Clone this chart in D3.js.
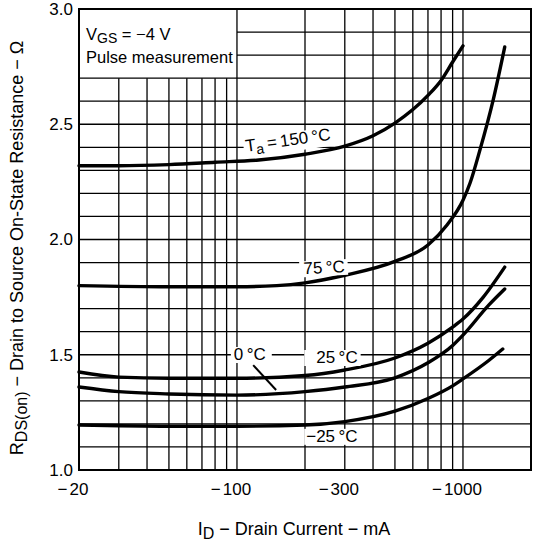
<!DOCTYPE html>
<html>
<head>
<meta charset="utf-8">
<script src="https://cdn.jsdelivr.net/npm/d3@7"></script>
<style>
body { margin: 0; background: #fff; }
svg { display: block; font-family: "Liberation Sans", Arial, sans-serif; }
</style>
</head>
<body>
<svg id="chart" width="533" height="548"></svg>

<script>
// drain current magnitude (mA) and R_DS(on) (ohm)
const id150 = [20, 30, 50, 80, 125, 200, 300, 400, 500, 700, 800, 900, 1000];
const r150  = [2.32, 2.32, 2.325, 2.335, 2.345, 2.37, 2.405, 2.45, 2.505, 2.625, 2.69, 2.77, 2.84];

const id75 = [20, 50, 100, 150, 200, 300, 500, 700, 850, 1000, 1075, 1190, 1360, 1530];
const r75  = [1.80, 1.795, 1.795, 1.80, 1.812, 1.845, 1.905, 1.976, 2.063, 2.17, 2.245, 2.39, 2.605, 2.835];

const id25 = [20, 30, 50, 100, 200, 300, 500, 700, 900, 1000, 1230, 1530];
const r25  = [1.425, 1.403, 1.398, 1.398, 1.41, 1.434, 1.486, 1.55, 1.62, 1.655, 1.75, 1.88];

const id0 = [20, 30, 50, 100, 200, 300, 500, 700, 900, 1000, 1300, 1530];
const r0  = [1.36, 1.34, 1.33, 1.325, 1.34, 1.36, 1.40, 1.465, 1.54, 1.585, 1.715, 1.785];

const idM25 = [20, 50, 100, 200, 300, 500, 700, 900, 1000, 1300, 1500];
const rM25  = [1.195, 1.19, 1.19, 1.195, 1.21, 1.255, 1.31, 1.365, 1.395, 1.475, 1.525];

const xTicks = [20, 100, 300, 1000];
const yTicks = [1.0, 1.5, 2.0, 2.5, 3.0];
const xGrid = [30, 40, 50, 60, 70, 80, 90, 100, 200, 300, 400, 500, 600, 700, 800, 900, 1000];
const yGrid = d3.range(11, 30).map(d => d / 10);

const svg = d3.select('#chart');

const x = d3.scaleLog().domain([20, 2000]).range([79, 531]);
const y = d3.scaleLinear().domain([1, 3]).range([470, 9]);

// grid
const grid = svg.append('g').attr('stroke', '#000').attr('stroke-width', 1.3);
grid.selectAll('line.v')
  .data(xGrid)
  .enter()
  .append('line')
  .attr('x1', d => x(d)).attr('x2', d => x(d))
  .attr('y1', d => d < 100 ? y(2.7) : y(3)).attr('y2', y(1));
grid.selectAll('line.h')
  .data(yGrid)
  .enter()
  .append('line')
  .attr('y1', d => y(d)).attr('y2', d => y(d))
  .attr('x1', d => d > 2.7 ? x(100) : x(20)).attr('x2', x(2000));

// frame
svg.append('rect')
  .attr('x', x(20)).attr('y', y(3))
  .attr('width', x(2000) - x(20)).attr('height', y(1) - y(3))
  .attr('fill', 'none').attr('stroke', '#000').attr('stroke-width', 2);

// conditions box text
const box = svg.append('text').attr('x', x(20) + 7).attr('y', 40).attr('font-size', 16.5);
box.append('tspan').text('V');
box.append('tspan').text('GS').attr('font-size', 14).attr('dy', 3);
box.append('tspan').text(' = \u22124 V').attr('dy', -3);
svg.append('text').attr('x', x(20) + 7).attr('y', 63).attr('font-size', 16.5).text('Pulse measurement');

// curves
const series = [
  [id150, r150], [id75, r75], [id25, r25], [id0, r0], [idM25, rM25]
];
const line = d3.line()
  .x(d => x(d[0]))
  .y(d => y(d[1]))
  .curve(d3.curveMonotoneX);

svg.append('g')
  .selectAll('path')
  .data(series)
  .enter()
  .append('path')
  .attr('d', s => line(d3.zip(s[0], s[1])))
  .attr('fill', 'none')
  .attr('stroke', '#000')
  .attr('stroke-width', 3.4)
  .attr('stroke-linecap', 'round');

// leader from "0 °C" label to its curve
svg.append('line')
  .attr('x1', x(118)).attr('y1', y(1.455))
  .attr('x2', x(149)).attr('y2', y(1.347))
  .attr('stroke', '#000').attr('stroke-width', 2);

// curve labels with white backgrounds
const addLabel = (parts, cx, cy, angle, padL, padR) => {
  const g = svg.append('g')
    .attr('transform', `translate(${x(cx)},${y(cy)}) rotate(${angle})`);
  const bg = g.append('rect').attr('fill', '#fff');
  const t = g.append('text')
    .attr('text-anchor', 'middle')
    .attr('dy', '0.35em')
    .attr('font-size', 17);
  parts.forEach(p => {
    const ts = t.append('tspan').text(p[0]);
    if (p[1] === 'sub') ts.attr('font-size', 14).attr('dy', 4);
    if (p[1] === 'up') ts.attr('dy', -4);
  });
  const b = t.node().getBBox();
  bg.attr('x', b.x - padL).attr('y', b.y + 2)
    .attr('width', b.width + padL + padR).attr('height', b.height - 3);
};

addLabel([['T'], ['a', 'sub'], ['\u2009=\u2009150\u2009\u00B0C', 'up']], 168, 2.432, -8, 2, 2);
addLabel([['75\u2009\u00B0C']], 243, 1.88, -3, 4, 3);
addLabel([['25\u2009\u00B0C']], 277, 1.49, 0, 12, 3);
addLabel([['0\u2009\u00B0C']], 114, 1.503, 0, 3, 6);
addLabel([['\u221225\u2009\u00B0C']], 263, 1.148, 0, 2, 2);

// y tick labels
svg.append('g')
  .selectAll('text')
  .data(yTicks)
  .enter()
  .append('text')
  .attr('x', x(20) - 6)
  .attr('y', d => y(d))
  .attr('dy', '0.35em')
  .attr('text-anchor', 'end')
  .attr('font-size', 17)
  .text(d => d.toFixed(1));

// x tick labels: digits centred on the grid line, minus hanging left
const xt = svg.append('g').selectAll('g').data(xTicks).enter().append('g');
xt.append('text')
  .attr('class', 'num')
  .attr('x', d => x(d))
  .attr('y', 495)
  .attr('text-anchor', 'middle')
  .attr('font-size', 17)
  .text(d => d);
xt.each(function (d) {
  const w = d3.select(this).select('text.num').node().getComputedTextLength();
  d3.select(this).append('text')
    .attr('x', x(d) - w / 2 - 2)
    .attr('y', 495)
    .attr('text-anchor', 'end')
    .attr('font-size', 17)
    .text('\u2212');
});

// axis titles
const xTitle = svg.append('text')
  .attr('x', 294).attr('y', 535)
  .attr('text-anchor', 'middle')
  .attr('font-size', 18);
xTitle.append('tspan').text('I');
xTitle.append('tspan').text('D').attr('font-size', 16).attr('dy', 4);
xTitle.append('tspan').text(' \u2212 Drain Current \u2212 mA').attr('dy', -4);

const yTitle = svg.append('text')
  .attr('transform', 'translate(23,248) rotate(-90)')
  .attr('text-anchor', 'middle')
  .attr('font-size', 18);
yTitle.append('tspan').text('R');
yTitle.append('tspan').text('DS(on)').attr('font-size', 16).attr('dy', 4);
yTitle.append('tspan').text(' \u2212 Drain to Source On-State Resistance \u2212 \u03A9').attr('dy', -4);
</script>
</body>
</html>
